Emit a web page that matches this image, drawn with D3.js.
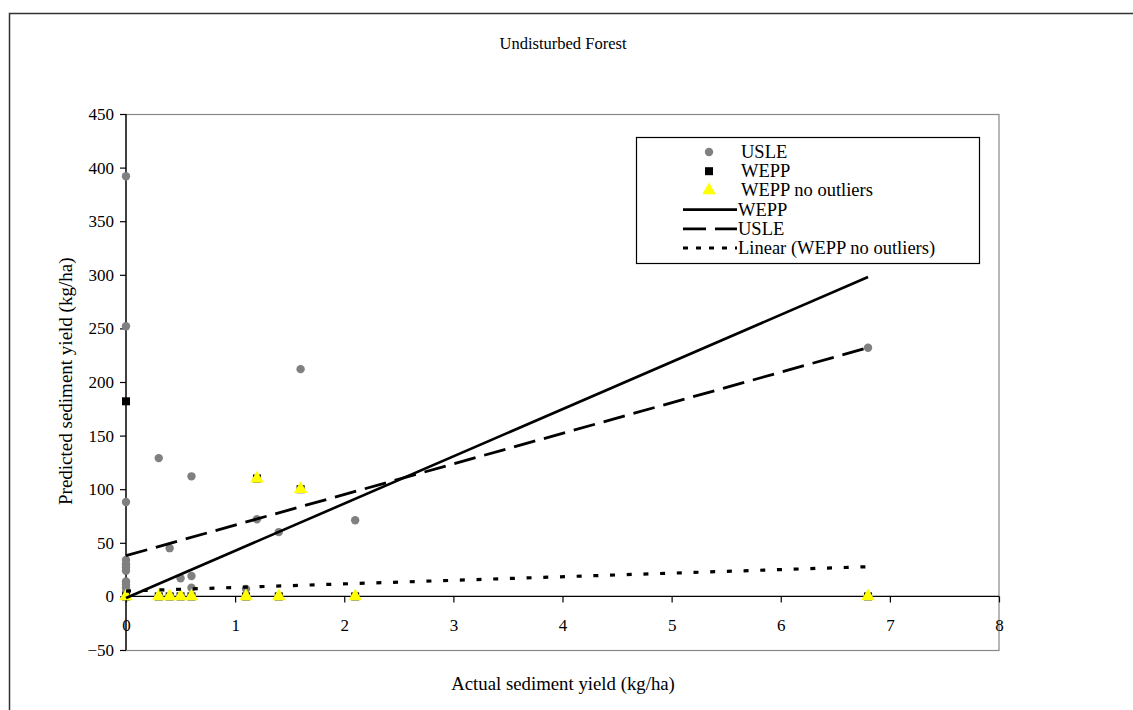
<!DOCTYPE html>
<html>
<head>
<meta charset="utf-8">
<script src="https://cdnjs.cloudflare.com/ajax/libs/d3/7.8.5/d3.min.js"></script>
<style>
	body { margin: 0; background: #fff; }
	svg text { font-family: "Liberation Serif", "Times New Roman", serif; font-size: 17px; fill: #000; }
</style>
</head>
<body>
<svg id="chart" width="1133" height="710"></svg>
<script>
// USLE predictions (gray circles)
var usleX = [0, 0, 0, 0, 0, 0, 0, 0, 0, 0, 0, 0, 0.3, 0.4, 0.5, 0.6, 0.6, 0.6, 1.1, 1.2, 1.4, 1.6, 2.1, 6.8];
var usleY = [392, 252, 88, 34, 30, 27, 24, 14, 11, 8, 4, 1, 129, 45, 17, 112, 19, 8, 7, 72, 60, 212, 71, 232];

// WEPP predictions (black squares)
var weppX = [0, 0, 0.3, 0.4, 0.5, 0.6, 1.1, 1.2, 1.4, 1.6, 2.1, 6.8];
var weppY = [182, 0, 0, 0, 0, 0, 0, 110, 0, 100, 0, 0];

// WEPP no outliers (yellow triangles)
var noOutX = [0, 0.3, 0.4, 0.5, 0.6, 1.1, 1.2, 1.4, 1.6, 2.1, 6.8];
var noOutY = [0, 0, 0, 0, 0, 0, 110, 0, 100, 0, 0];

// trend lines, start and end
var trendX = [0, 6.8];
var weppTrend = [-1.5, 298];
var usleTrend = [38, 232];
var linearTrend = [5, 27.7];

var xTicks = [0, 1, 2, 3, 4, 5, 6, 7, 8];
var yTicks = [-50, 0, 50, 100, 150, 200, 250, 300, 350, 400, 450];

var legendLabels = ["USLE", "WEPP", "WEPP no outliers", "WEPP", "USLE", "Linear (WEPP no outliers)"];

gen_vis();

function gen_vis(){

	var left = 126, right = 999, top = 114, bottom = 650;
	var serif = "'Liberation Serif', 'Times New Roman', serif";

	var svg = d3.select("#chart");

	var xscale = d3.scaleLinear()
					.domain([0, 8])
					.range([left, right]);

	var yscale = d3.scaleLinear()
					.domain([-50, 450])
					.range([bottom, top]);

	// outer chart frame
	svg.append("rect")
		.attr("x", 9.5).attr("y", 13.5)
		.attr("width", 1140).attr("height", 720)
		.attr("fill", "none")
		.attr("stroke", "#333")
		.attr("stroke-width", 1.5);

	// plot area border
	svg.append("rect")
		.attr("x", left).attr("y", top + 0.5)
		.attr("width", right - left).attr("height", bottom - top)
		.attr("fill", "none")
		.attr("stroke", "#888")
		.attr("stroke-width", 1.2);

	svg.append("text")
		.attr("x", 563).attr("y", 43)
		.attr("text-anchor", "middle")
		.attr("dominant-baseline", "central")
		.style("font-size", "16.5px")
		.text("Undisturbed Forest");

	var yaxis = d3.axisLeft()
				.scale(yscale)
				.tickValues(yTicks)
				.tickSize(6)
				.tickPadding(6)
				.tickFormat(d3.format("d"));

	var xaxis = d3.axisBottom()
				.scale(xscale)
				.tickValues(xTicks)
				.tickSize(6)
				.tickPadding(17)
				.tickFormat(d3.format("d"));

	var gy = svg.append("g")
		.attr("transform", "translate(" + left + ",0)")
		.call(yaxis);

	var gx = svg.append("g")
		.attr("transform", "translate(0," + yscale(0) + ")")
		.call(xaxis);

	[gx, gy].forEach(function(g){
		g.attr("font-family", serif).attr("font-size", 17);
		g.select(".domain").attr("stroke", "#000").attr("stroke-width", 1.3);
		g.selectAll(".tick line").attr("stroke", "#000").attr("stroke-width", 1.2);
		g.selectAll(".tick text").attr("fill", "#000");
	});
	gx.select(".domain").attr("d", "M" + left + ",0H" + right);
	gy.select(".domain").attr("d", "M0," + top + "V" + bottom);

	// axis titles
	svg.append("text")
		.attr("x", 563).attr("y", 683)
		.attr("text-anchor", "middle")
		.attr("dominant-baseline", "central")
		.style("font-size", "18.8px")
		.text("Actual sediment yield (kg/ha)");

	svg.append("clipPath").attr("id", "ytitleclip")
		.append("rect").attr("x", 0).attr("y", 257).attr("width", 120).attr("height", 400);

	svg.append("g")
		.attr("clip-path", "url(#ytitleclip)")
		.append("text")
			.attr("transform", "translate(65,505) rotate(-90)")
			.attr("text-anchor", "start")
			.attr("dominant-baseline", "central")
			.style("font-size", "19px")
			.text("Predicted sediment yield (kg/ha)");

	// markers
	svg.append("g").selectAll("circle")
		.data(usleX)
		.enter().append("circle")
			.attr("cx", function(d){return xscale(d);})
			.attr("cy", function(d, i){return yscale(usleY[i]);})
			.attr("r", 4.2)
			.attr("fill", "#808080");

	var sq = d3.symbol().type(d3.symbolSquare).size(64);
	var tri = d3.symbol().type(d3.symbolTriangle).size(80);

	svg.append("g").selectAll("path")
		.data(weppX)
		.enter().append("path")
			.attr("d", sq)
			.attr("transform", function(d, i){return "translate(" + xscale(d) + "," + yscale(weppY[i]) + ")";})
			.attr("fill", "#000");

	svg.append("g").selectAll("path")
		.data(noOutX)
		.enter().append("path")
			.attr("d", tri)
			.attr("transform", function(d, i){return "translate(" + xscale(d) + "," + yscale(noOutY[i]) + ")";})
			.attr("fill", "#ffff00");

	// trend lines
	var line = d3.line()
				.x(function(d){return xscale(d[0]);})
				.y(function(d){return yscale(d[1]);});

	function trend(vals, dash, w){
		svg.append("path")
			.attr("d", line(d3.zip(trendX, vals)))
			.attr("fill", "none")
			.attr("stroke", "#000")
			.attr("stroke-width", w)
			.attr("stroke-dasharray", dash);
	}
	trend(weppTrend, null, 2.6);
	trend(usleTrend, "22,9", 2.8);
	trend(linearTrend, "5,11.7", 3.2);

	// legend
	var lg = svg.append("g");
	lg.append("rect")
		.attr("x", 636.5).attr("y", 137.5)
		.attr("width", 343).attr("height", 126)
		.attr("fill", "#fff")
		.attr("stroke", "#000")
		.attr("stroke-width", 1.2);

	var rowY = d3.scaleLinear().domain([0, 5]).range([152, 248]);
	var mx = 709;

	lg.append("circle").attr("cx", mx).attr("cy", rowY(0)).attr("r", 4.2).attr("fill", "#808080");
	lg.append("path").attr("d", sq).attr("transform", "translate(" + mx + "," + rowY(1) + ")").attr("fill", "#000");
	lg.append("path").attr("d", tri).attr("transform", "translate(" + mx + "," + rowY(2) + ")").attr("fill", "#ffff00");

	var legDash = [null, "23,9", "5,8"];
	legDash.forEach(function(dash, k){
		lg.append("line")
			.attr("x1", 683).attr("x2", 737)
			.attr("y1", rowY(3 + k)).attr("y2", rowY(3 + k))
			.attr("stroke", "#000")
			.attr("stroke-width", 2.8)
			.attr("stroke-dasharray", dash);
	});

	lg.selectAll("text.leg")
		.data(legendLabels)
		.enter().append("text")
			.attr("class", "leg")
			.attr("x", function(d, i){return i < 3 ? 741 : 738;})
			.attr("y", function(d, i){return rowY(i);})
			.attr("dominant-baseline", "central")
			.style("font-size", "18.5px")
			.text(function(d){return d;});
}
</script>
</body>
</html>
